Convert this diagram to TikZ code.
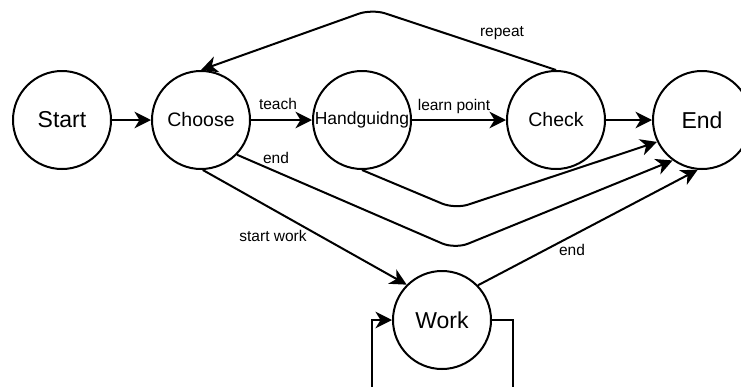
\documentclass[tikz,border=0pt]{standalone}
\usepackage{fontspec}
\setmainfont{Liberation Sans}
\usetikzlibrary{arrows.meta}
\tikzset{
  state/.style={circle, draw, line width=2pt, minimum size=98pt, inner sep=0pt},
  arr/.style={draw, line width=2pt, line join=round,
    -{Stealth[length=16.5pt, width=16.5pt, inset=5pt]}},
  lbl/.style={inner sep=0pt, font=\fontsize{15.5pt}{17pt}\selectfont},
}
\begin{document}
\begin{tikzpicture}[x=1pt, y=-1pt]
\useasboundingbox (0,0) rectangle (741,386);
\begin{scope}
\clip (0,0) rectangle (741,386);

% states
\node[state, font=\fontsize{23pt}{25pt}\selectfont] (start) at (62,120) {Start};
\node[state, font=\fontsize{19.5pt}{22pt}\selectfont] (choose) at (201,120) {Choose};
\node[state, font=\fontsize{17.5pt}{20pt}\selectfont] (hand) at (362,120) {Handguidng};
\node[state, font=\fontsize{19.5pt}{22pt}\selectfont] (check) at (556,120) {Check};
\node[state, font=\fontsize{23pt}{25pt}\selectfont] (end) at (702,120) {End};
\node[state, font=\fontsize{23pt}{25pt}\selectfont] (work) at (442,320) {Work};

% bend points
\coordinate (peak) at (372,9);
\coordinate (lowA) at (455,209);
\coordinate (lowB) at (455,249);
\coordinate (loopR) at (513,420);
\coordinate (loopL) at (372,420);

% straight transitions
\draw[arr] (start) -- (choose);
\draw[arr] (choose) -- (hand);
\draw[arr] (hand) -- (check);
\draw[arr] (check) -- (end);

% return path
\draw[arr, rounded corners=14pt] (check.north) -- (peak) -- (choose.north);

% transitions into the final state
\draw[arr, rounded corners=14pt] (hand.south) -- (lowA) -- (end.206);
\draw[arr, rounded corners=14pt] (choose.-44) -- (lowB) -- (end.234);
\draw[arr] (choose.-88) -- (work.135);
\draw[arr] (work.44) -- (end.265);

% self loop on Work
\draw[arr, line join=miter] (work.east) -| (loopR) -- (loopL) |- (work.west);

% transition labels
\node[lbl] (lteach) at (278,104) {teach};
\node[lbl] (llearn) at (454,106) {learn point};
\node[lbl] (lend1) at (276,158) {end};
\node[lbl] (lrepeat) at (502,33) {repeat};
\node[lbl] (lstart) at (273,236) {start work};
\node[lbl] (lend2) at (572,250) {end};
\end{scope}
\end{tikzpicture}
\end{document}
